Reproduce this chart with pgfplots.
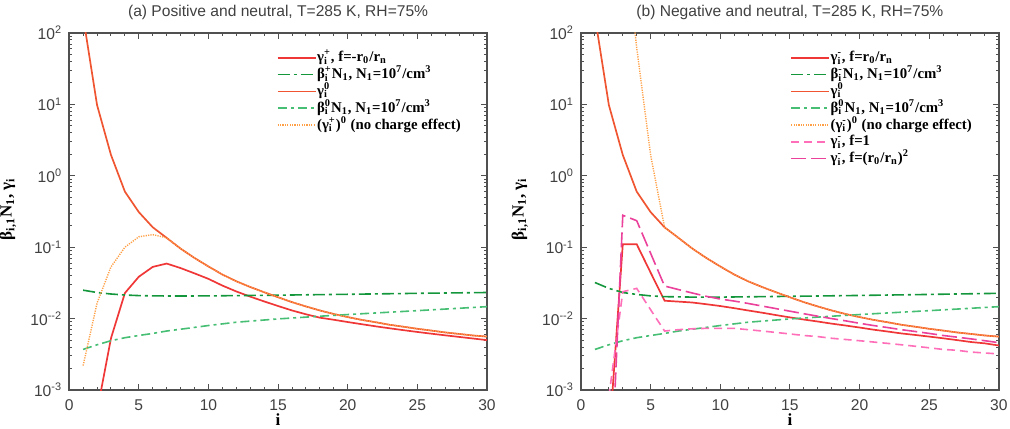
\documentclass[border=0pt]{standalone}
\usepackage{fontspec}
\setmainfont{Liberation Sans}
\newfontfamily\legfont{Liberation Serif}
\usepackage{pgfplots}
\pgfplotsset{compat=1.18}

\definecolor{gred}{RGB}{240,55,55}
\definecolor{gneu}{RGB}{240,85,50}
\definecolor{bdark}{RGB}{20,150,60}
\definecolor{blight}{RGB}{70,190,115}
\definecolor{ndot}{RGB}{255,160,70}
\definecolor{pshort}{RGB}{255,110,185}
\definecolor{plong}{RGB}{235,65,155}
\definecolor{axgray}{RGB}{80,80,80}

% stacked sub- and superscript
\newsavebox\supbox
\newsavebox\subbox
\newcommand\subsup[2]{\sbox\supbox{\textsuperscript{#2}}\sbox\subbox{\textsubscript{#1}}%
  \ifdim\wd\supbox>\wd\subbox\rlap{\usebox\subbox}\usebox\supbox\else\rlap{\usebox\supbox}\usebox\subbox\fi}

\newcommand\labfont{\legfont\bfseries\fontsize{8.5}{10}\selectfont}
\newcommand\legendfont{\legfont\bfseries\fontsize{7.4}{8.4}\selectfont}
\newcommand\tickfont{\fontsize{7.8}{9}\selectfont}

\tikzset{
  gneuS/.style={gneu, line width=0.85pt},
  gredS/.style={gred, line width=0.85pt},
  bdarkS/.style={bdark, line width=0.8pt, dash pattern=on 6pt off 2pt on 1.5pt off 2pt},
  blightS/.style={blight, line width=0.8pt, dash pattern=on 4.5pt off 2pt on 1.5pt off 2pt},
  ndotS/.style={ndot, line width=0.7pt, dash pattern=on 0.6pt off 0.6pt},
  pshortS/.style={pshort, line width=0.8pt, dash pattern=on 4pt off 2.5pt},
  plongS/.style={plong, line width=0.8pt, dash pattern=on 7.5pt off 2.5pt},
}

\begin{document}
\begin{tikzpicture}
\useasboundingbox (0,0) rectangle (505pt,214pt);

% ---------------- (a) positive and neutral ----------------
\begin{axis}[
    name=L, at={(34.6pt,19pt)}, anchor=south west,
    scale only axis, width=208.9pt, height=178.5pt,
    xmin=0, xmax=30, ymode=log, ymin=1e-3, ymax=1e2,
    xtick={0,5,...,30}, minor x tick num=4,
    ytick={1e-3,1e-2,1e-1,1,10,100},
    yticklabels={10\textsuperscript{-3},10\textsuperscript{-{}-2},10\textsuperscript{-1},10\textsuperscript{0},10\textsuperscript{1},10\textsuperscript{2}},
    /pgf/number format/assume math mode=true,
    xticklabel style={font=\tickfont, text=black!75, yshift=-1.5pt},
    yticklabel style={font=\tickfont, text=black!75},
    tick align=inside,
    major tick length=3pt, minor tick length=1.6pt,
    axis line style={axgray, line width=0.75pt},
    tick style={axgray, line width=0.5pt},
    title style={at={(0.5,1)}, anchor=base, yshift=2.2pt, font=\tickfont, text=black!75},
    title={(a) Positive and neutral, T=285 K, RH=75\%},
    legend cell align=left,
    legend image code/.code={\draw[#1] (0pt,0pt) -- (19pt,0pt);},
    legend style={at={(0.496,0.955)}, anchor=north west, draw=none, fill=none,
      inner sep=0pt, row sep=0pt, font=\legendfont,
      nodes={inner sep=0.3pt, text height=5.9pt, text depth=1.9pt}},
  ]
\addplot[gredS] coordinates {(2,0.0005) (3,0.0053) (4,0.0228) (5,0.0386) (6,0.053) (7,0.059) (8,0.051) (9,0.043) (10,0.036) (11,0.0290) (12,0.0240) (13,0.0203) (14,0.0174) (15,0.0150) (16,0.0130) (17,0.0115) (18,0.0103) (19,0.00963) (20,0.00895) (21,0.00835) (22,0.0078) (23,0.00732) (24,0.00689) (25,0.0065) (26,0.00615) (27,0.00583) (28,0.00554) (29,0.00526) (30,0.0050)};
\addlegendentry{γ\subsup{i}{+}, f=-r\textsubscript{0}/r\textsubscript{n}}
\addplot[bdarkS] coordinates {(1,0.0250) (2,0.0232) (3,0.0221) (4,0.0214) (5,0.0210) (6,0.0208) (8,0.0207) (10,0.0208) (12,0.0210) (15,0.0213) (20,0.0219) (25,0.0226) (30,0.0232)};
\addlegendentry{β\subsup{i}{+}N\textsubscript{1}, N\textsubscript{1}=10\textsuperscript{7}/cm\textsuperscript{3}}
\addplot[gneuS] coordinates {(1,170) (2,9.8) (3,1.96) (4,0.60) (5,0.31) (6,0.19) (7,0.135) (8,0.0955) (9,0.0706) (10,0.0537) (11,0.0414) (12,0.0333) (13,0.0277) (14,0.0234) (15,0.0199) (16,0.0170) (17,0.0148) (18,0.0130) (19,0.0116) (20,0.0105) (21,0.0096) (22,0.0089) (23,0.0082) (24,0.0077) (25,0.0072) (26,0.0068) (27,0.0064) (28,0.0061) (29,0.0058) (30,0.0056)};
\addlegendentry{γ\subsup{i}{0}}
\addplot[blightS] coordinates {(1,0.0037) (2,0.0043) (3,0.0049) (4,0.0054) (5,0.0058) (6,0.0062) (7,0.0067) (8,0.0071) (10,0.0080) (12,0.0089) (15,0.0099) (18,0.0108) (21,0.0117) (24,0.0126) (27,0.0136) (30,0.0147)};
\addlegendentry{β\subsup{i}{0}N\textsubscript{1}, N\textsubscript{1}=10\textsuperscript{7}/cm\textsuperscript{3}}
\addplot[ndotS] coordinates {(1,0.0022) (2,0.0165) (3,0.053) (4,0.10) (5,0.14) (6,0.15) (7,0.135) (8,0.0955) (9,0.0706) (10,0.0537) (11,0.0414) (12,0.0333) (13,0.0277) (14,0.0234) (15,0.0199) (16,0.0170) (17,0.0148) (18,0.0130) (19,0.0116) (20,0.0105) (21,0.0096) (22,0.0089) (23,0.0082) (24,0.0077) (25,0.0072) (26,0.0068) (27,0.0064) (28,0.0061) (29,0.0058) (30,0.0056)};
\addlegendentry{(γ\subsup{i}{+})\textsuperscript{0} (no charge effect)}
\end{axis}
\node[rotate=90, anchor=center, font=\labfont] at ([xshift=-30.6pt, yshift=1.2pt]L.west) {β\textsubscript{i,1}N\textsubscript{1}, γ\textsubscript{i}};
\node[anchor=north, inner sep=0pt, font=\labfont] at ([yshift=-11.6pt]L.south) {i};

% ---------------- (b) negative and neutral ----------------
\begin{axis}[
    name=R, at={(290.5pt,19pt)}, anchor=south west,
    scale only axis, width=208.9pt, height=178.5pt,
    xmin=0, xmax=30, ymode=log, ymin=1e-3, ymax=1e2,
    xtick={0,5,...,30}, minor x tick num=4,
    ytick={1e-3,1e-2,1e-1,1,10,100},
    yticklabels={10\textsuperscript{-3},10\textsuperscript{-{}-2},10\textsuperscript{-1},10\textsuperscript{0},10\textsuperscript{1},10\textsuperscript{2}},
    /pgf/number format/assume math mode=true,
    xticklabel style={font=\tickfont, text=black!75, yshift=-1.5pt},
    yticklabel style={font=\tickfont, text=black!75},
    tick align=inside,
    major tick length=3pt, minor tick length=1.6pt,
    axis line style={axgray, line width=0.75pt},
    tick style={axgray, line width=0.5pt},
    title style={at={(0.5,1)}, anchor=base, yshift=2.2pt, font=\tickfont, text=black!75},
    title={(b) Negative and neutral, T=285 K, RH=75\%},
    legend cell align=left,
    legend image code/.code={\draw[#1] (0pt,0pt) -- (19pt,0pt);},
    legend style={at={(0.50,0.955)}, anchor=north west, draw=none, fill=none,
      inner sep=0pt, row sep=0pt, font=\legendfont,
      nodes={inner sep=0.3pt, text height=5.9pt, text depth=1.9pt}},
  ]
\addplot[gredS] coordinates {(2,0.00018) (3,0.11) (4,0.11) (5,0.044) (6,0.0178) (7,0.0173) (8,0.0168) (9,0.0159) (10,0.0150) (11,0.0140) (12,0.0130) (13,0.0121) (14,0.0112) (15,0.0104) (16,0.0097) (17,0.0091) (18,0.0085) (19,0.0080) (20,0.0075) (21,0.0070) (22,0.0066) (23,0.0062) (24,0.0059) (25,0.0056) (26,0.0053) (27,0.0050) (28,0.0047) (29,0.0045) (30,0.0042)};
\addlegendentry{γ\subsup{i}{-}, f=r\textsubscript{0}/r\textsubscript{n}}
\addplot[bdarkS] coordinates {(1,0.0320) (2,0.0265) (3,0.0232) (4,0.0218) (5,0.0208) (6,0.0203) (8,0.0200) (10,0.0200) (12,0.0202) (15,0.0205) (20,0.0211) (25,0.0218) (30,0.0226)};
\addlegendentry{β\subsup{i}{-}N\textsubscript{1}, N\textsubscript{1}=10\textsuperscript{7}/cm\textsuperscript{3}}
\addplot[gneuS] coordinates {(1,170) (2,9.8) (3,1.96) (4,0.60) (5,0.31) (6,0.19) (7,0.135) (8,0.0955) (9,0.0706) (10,0.0537) (11,0.0414) (12,0.0333) (13,0.0277) (14,0.0234) (15,0.0199) (16,0.0170) (17,0.0148) (18,0.0130) (19,0.0116) (20,0.0105) (21,0.0096) (22,0.0089) (23,0.0082) (24,0.0077) (25,0.0072) (26,0.0068) (27,0.0064) (28,0.0061) (29,0.0058) (30,0.0056)};
\addlegendentry{γ\subsup{i}{0}}
\addplot[blightS] coordinates {(1,0.0037) (2,0.0043) (3,0.0049) (4,0.0054) (5,0.0058) (6,0.0062) (7,0.0067) (8,0.0071) (10,0.0080) (12,0.0089) (15,0.0099) (18,0.0108) (21,0.0117) (24,0.0126) (27,0.0136) (30,0.0147)};
\addlegendentry{β\subsup{i}{0}N\textsubscript{1}, N\textsubscript{1}=10\textsuperscript{7}/cm\textsuperscript{3}}
\addplot[ndotS] coordinates {(3,3500) (4,62) (5,1.95) (6,0.19) (7,0.135) (8,0.0955) (9,0.0706) (10,0.0537) (11,0.0414) (12,0.0333) (13,0.0277) (14,0.0234) (15,0.0199) (16,0.0170) (17,0.0148) (18,0.0130) (19,0.0116) (20,0.0105) (21,0.0096) (22,0.0089) (23,0.0082) (24,0.0077) (25,0.0072) (26,0.0068) (27,0.0064) (28,0.0061) (29,0.0058) (30,0.0056)};
\addlegendentry{(γ\subsup{i}{-})\textsuperscript{0} (no charge effect)}
\addplot[pshortS] coordinates {(2,0.0008) (3,0.0238) (4,0.0265) (5,0.0133) (6,0.0067) (7,0.0070) (8,0.0072) (9,0.0073) (10,0.0073) (11,0.0073) (12,0.0070) (13,0.0067) (14,0.0064) (15,0.0061) (16,0.0058) (17,0.0056) (18,0.0053) (19,0.0051) (20,0.0049) (21,0.0047) (22,0.0045) (23,0.0043) (24,0.0041) (25,0.0039) (26,0.0037) (27,0.0036) (28,0.0034) (29,0.0033) (30,0.0032)};
\addlegendentry{γ\subsup{i}{-}, f=1}
\addplot[plongS] coordinates {(2,1.2e-5) (3,0.28) (4,0.235) (5,0.082) (6,0.0286) (7,0.0255) (8,0.0228) (9,0.0205) (10,0.0188) (11,0.0176) (12,0.0163) (13,0.0150) (14,0.0138) (15,0.0127) (16,0.0117) (17,0.0108) (18,0.0100) (19,0.0093) (20,0.0086) (21,0.0080) (22,0.0075) (23,0.0070) (24,0.0066) (25,0.0062) (26,0.0058) (27,0.0055) (28,0.0052) (29,0.0049) (30,0.0046)};
\addlegendentry{γ\subsup{i}{-}, f=(r\textsubscript{0}/r\textsubscript{n})\textsuperscript{2}}
\end{axis}
\node[rotate=90, anchor=center, font=\labfont] at ([xshift=-30.6pt, yshift=1.2pt]R.west) {β\textsubscript{i,1}N\textsubscript{1}, γ\textsubscript{i}};
\node[anchor=north, inner sep=0pt, font=\labfont] at ([yshift=-11.6pt]R.south) {i};
\end{tikzpicture}
\end{document}
